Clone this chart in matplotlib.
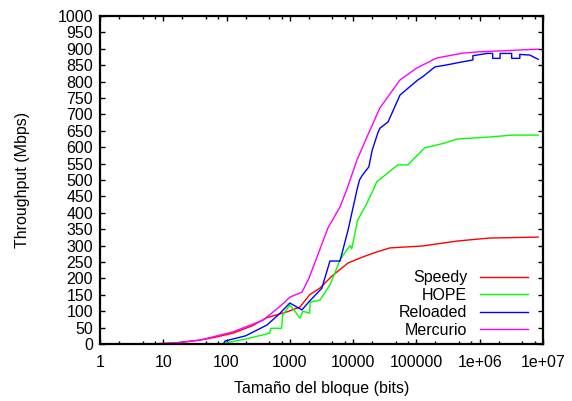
import matplotlib
matplotlib.use('Agg')
import matplotlib.pyplot as plt
from matplotlib.ticker import LogLocator, NullFormatter

plt.rcParams['font.family'] = ['Liberation Sans', 'DejaVu Sans']

# Tamaño del bloque (bits) / Throughput (Mbps)
speedy_x = [8, 16, 38, 64, 126, 250, 430, 900, 1450, 2050, 3000, 4800, 8300, 14000,
            23000, 38000, 126000, 440000, 1400000, 8388608]
speedy_y = [1, 3, 12, 20, 33, 55, 80, 98, 113, 150, 171, 210, 247, 265,
            280, 293, 299, 314, 323, 326]

hope_x = [8, 90, 100, 200, 480, 500, 740, 770, 1000, 1200, 1450, 1600, 2050, 2100,
          3000, 4300, 6200, 7900, 9000, 9500, 11800, 16000, 21500, 23500, 37000,
          51000, 73000, 135000, 283000, 440000, 1400000, 3300000, 8388608]
hope_y = [0, 1, 4, 15, 33, 48, 48, 88, 119, 100, 79, 100, 94, 128,
          134, 180, 256, 287, 300, 290, 378, 424, 476, 494, 525,
          546, 546, 598, 613, 625, 631, 637, 637]

reloaded_x = [8, 90, 94, 200, 436, 700, 1000, 1550, 2050, 3200, 4300, 6200, 8300,
              11500, 12600, 14000, 17700, 20000, 24500, 26500, 35600, 55000, 105000,
              126000, 196000, 283000, 490000, 780000, 780000, 1300000, 1600000,
              1600000, 2100000, 2100000, 3200000, 3200000, 4300000, 4300000,
              6200000, 8388608]
reloaded_y = [0, 1, 9, 25, 58, 94, 125, 104, 131, 170, 253, 253, 347,
              470, 500, 515, 540, 591, 643, 658, 677, 759, 805,
              815, 845, 850, 859, 866, 879, 886, 886,
              871, 871, 886, 886, 871, 871, 883,
              881, 868]

mercurio_x = [8, 16, 38, 126, 380, 740, 1000, 1550, 2000, 3000, 4000, 6200, 7900,
              11500, 16000, 26500, 55000, 100000, 209000, 540000, 1000000, 3000000,
              8388608]
mercurio_y = [1, 4, 12, 37, 73, 119, 143, 158, 200, 290, 354, 418, 470,
              561, 625, 720, 805, 841, 872, 887, 891, 895, 899]

xticks = [1, 10, 100, 1000, 10000, 100000, 1e6, 1e7]
xticklabels = ['1', '10', '100', '1000', '10000', '100000', '1e+06', '1e+07']
yticks = list(range(0, 1001, 50))

fs = 11.5

fig = plt.figure(figsize=(5.72, 4.01), dpi=100)
ax = fig.add_axes([0.1748, 0.1421, 0.7745, 0.8179])

ax.plot(speedy_x, speedy_y, color='#ff0000', lw=1.0, label='Speedy')
ax.plot(hope_x, hope_y, color='#00ff00', lw=1.0, label='HOPE')
ax.plot(reloaded_x, reloaded_y, color='#0000ff', lw=1.0, label='Reloaded')
ax.plot(mercurio_x, mercurio_y, color='#ff00ff', lw=1.0, label='Mercurio')

ax.set_xscale('log')
ax.set_xlim(1, 1e7)
ax.set_ylim(0, 1000)
ax.set_xticks(xticks)
ax.set_xticklabels(xticklabels)
ax.xaxis.set_minor_locator(LogLocator(base=10, subs=[2, 4.7, 7.4]))
ax.xaxis.set_minor_formatter(NullFormatter())
ax.set_yticks(yticks)

ax.tick_params(which='both', direction='in', top=True, right=True,
               labelsize=fs, colors='black')
ax.tick_params(which='major', length=3.5, width=1.0)
ax.tick_params(which='minor', length=2, width=1.0)
ax.tick_params(axis='x', which='major', pad=8)
ax.tick_params(axis='y', which='major', pad=5)
for s in ax.spines.values():
    s.set_linewidth(1.6)

ax.set_xlabel('Tamaño del bloque (bits)', fontsize=fs, labelpad=8)
ax.set_ylabel('Throughput (Mbps)', fontsize=fs, labelpad=20)

ax.legend(loc='lower right', frameon=False, markerfirst=False, fontsize=fs,
          handlelength=3.0, handletextpad=0.8, labelspacing=0.15,
          borderaxespad=0.0, bbox_to_anchor=(0.98, 0.0))

fig.savefig('out.png', dpi=100)
